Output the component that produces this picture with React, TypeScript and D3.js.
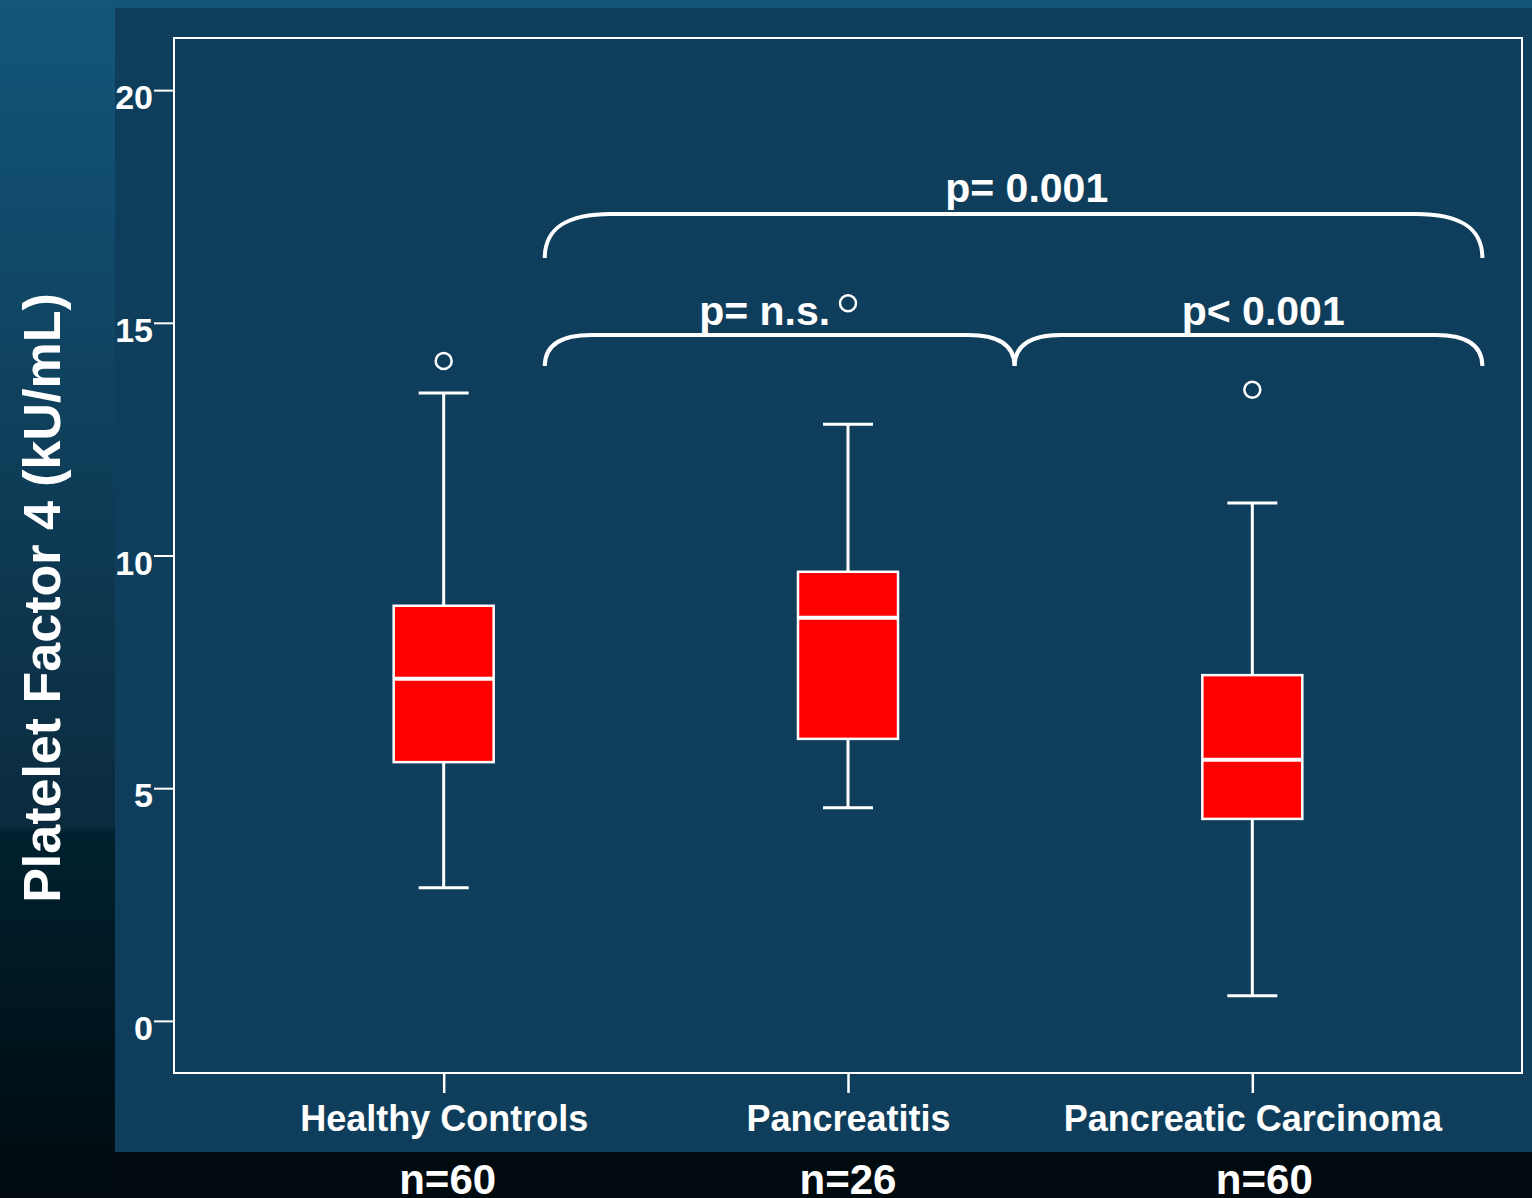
import React, { useEffect, useRef } from "react";
import * as d3 from "d3";

// groups and their box statistics (kU/mL)
const categories = ["Healthy Controls", "Pancreatitis", "Pancreatic Carcinoma"];
const counts = ["n=60", "n=26", "n=60"];
const countShift = [4, 0, 12];
const whiskerLow = [2.86, 4.58, 0.54];
const q1 = [5.56, 6.06, 4.34];
const median = [7.35, 8.66, 5.61];
const q3 = [8.92, 9.65, 7.43];
const whiskerHigh = [13.49, 12.82, 11.13];
const outliers = [14.18, 15.42, 13.56];
const yTicks = [0, 5, 10, 15, 20];

// significance braces: x in group-index units, y in data units
const braces = [
  { from: 0.25, to: 2.569, top: 17.34, drop: 16.39, label: "p= 0.001", labelX: 1.442, labelY: 17.6 },
  { from: 0.25, to: 1.412, top: 14.74, drop: 14.07, label: "p= n.s.", labelX: 0.794, labelY: 14.95 },
  { from: 1.412, to: 2.569, top: 14.74, drop: 14.07, label: "p< 0.001", labelX: 2.027, labelY: 14.95 },
];

const W = 1532;
const H = 1198;
const FONT = "'Liberation Sans', Arial, sans-serif";

const App = () => {
  const svgRef = useRef<SVGSVGElement>(null);

  useEffect(() => {
    document.body.style.margin = "0";
    const svg = d3.select(svgRef.current);
    svg.selectAll("*").remove();

    const frame = { left: 174, right: 1522, top: 38, bottom: 1073 };

    const x = d3.scalePoint<string>().domain(categories).range([frame.left, frame.right]).padding(0.667);
    const xi = d3.scaleLinear().domain([0, 1]).range([x(categories[0])!, x(categories[1])!]);
    const y = d3.scaleLinear().domain([-1.12, 21.12]).range([frame.bottom, frame.top]);

    // background
    const defs = svg.append("defs");
    const grad = defs.append("linearGradient").attr("id", "bg").attr("x1", 0).attr("y1", 0).attr("x2", 0).attr("y2", 1);
    grad.append("stop").attr("offset", "0").attr("stop-color", "#13567b");
    grad.append("stop").attr("offset", "0.69").attr("stop-color", "#0b2b3e");
    grad.append("stop").attr("offset", "0.695").attr("stop-color", "#00212f");
    grad.append("stop").attr("offset", "1").attr("stop-color", "#000a0f");

    svg.append("rect").attr("width", W).attr("height", H).attr("fill", "url(#bg)");
    svg.append("rect").attr("x", 115).attr("y", 0).attr("width", W - 115).attr("height", 8).attr("fill", "#13557a");
    svg.append("rect").attr("x", 115).attr("y", 1152).attr("width", W - 115).attr("height", H - 1152).attr("fill", "#010a0f");
    svg.append("rect").attr("x", 115).attr("y", 8).attr("width", W - 115).attr("height", 1144).attr("fill", "#0e3e5b");

    // frame
    svg
      .append("rect")
      .attr("x", frame.left)
      .attr("y", frame.top)
      .attr("width", frame.right - frame.left)
      .attr("height", frame.bottom - frame.top)
      .attr("fill", "none")
      .attr("stroke", "white")
      .attr("stroke-width", 2);

    // y axis
    const yAxis = svg
      .append("g")
      .attr("transform", `translate(${frame.left}, 0)`)
      .call(d3.axisLeft(y).tickValues(yTicks).tickSize(20).tickPadding(1));
    yAxis.select(".domain").remove();
    yAxis.selectAll("line").attr("stroke", "white").attr("stroke-width", 2);
    yAxis
      .selectAll("text")
      .attr("fill", "white")
      .attr("dy", "0.55em")
      .style("font-family", FONT)
      .style("font-weight", 700)
      .style("font-size", "34px");

    // x axis
    const xAxis = svg
      .append("g")
      .attr("transform", `translate(0, ${frame.bottom})`)
      .call(d3.axisBottom(x).tickSize(20).tickPadding(12));
    xAxis.select(".domain").remove();
    xAxis.selectAll("line").attr("stroke", "white").attr("stroke-width", 2.5);
    xAxis
      .selectAll("text")
      .attr("fill", "white")
      .style("font-family", FONT)
      .style("font-weight", 700)
      .style("font-size", "36px");

    // sample sizes
    svg
      .selectAll("text.count")
      .data(counts)
      .enter()
      .append("text")
      .attr("class", "count")
      .attr("x", (d, i) => x(categories[i])! + countShift[i])
      .attr("y", 1194)
      .attr("text-anchor", "middle")
      .attr("fill", "white")
      .style("font-family", FONT)
      .style("font-weight", 700)
      .style("font-size", "42px")
      .text(d => d);

    // axis title
    svg
      .append("text")
      .attr("transform", `translate(60, 598) rotate(-90)`)
      .attr("text-anchor", "middle")
      .attr("fill", "white")
      .style("font-family", FONT)
      .style("font-weight", 700)
      .style("font-size", "52px")
      .text("Platelet Factor 4 (kU/mL)");

    // boxes
    const boxW = 100;
    const capW = 50;
    const g = svg.selectAll("g.box").data(categories).enter().append("g").attr("class", "box");

    g.append("line")
      .attr("x1", d => x(d)!)
      .attr("x2", d => x(d)!)
      .attr("y1", (d, i) => y(whiskerLow[i]))
      .attr("y2", (d, i) => y(whiskerHigh[i]))
      .attr("stroke", "white")
      .attr("stroke-width", 3);
    [whiskerLow, whiskerHigh].forEach(arr => {
      g.append("line")
        .attr("x1", d => x(d)! - capW / 2)
        .attr("x2", d => x(d)! + capW / 2)
        .attr("y1", (d, i) => y(arr[i]))
        .attr("y2", (d, i) => y(arr[i]))
        .attr("stroke", "white")
        .attr("stroke-width", 3);
    });
    g.append("rect")
      .attr("x", d => x(d)! - boxW / 2)
      .attr("y", (d, i) => y(q3[i]))
      .attr("width", boxW)
      .attr("height", (d, i) => y(q1[i]) - y(q3[i]))
      .attr("fill", "#ff0000")
      .attr("stroke", "white")
      .attr("stroke-width", 2.5);
    g.append("line")
      .attr("x1", d => x(d)! - boxW / 2)
      .attr("x2", d => x(d)! + boxW / 2)
      .attr("y1", (d, i) => y(median[i]))
      .attr("y2", (d, i) => y(median[i]))
      .attr("stroke", "white")
      .attr("stroke-width", 4);
    g.append("circle")
      .attr("cx", d => x(d)!)
      .attr("cy", (d, i) => y(outliers[i]))
      .attr("r", 8)
      .attr("fill", "none")
      .attr("stroke", "white")
      .attr("stroke-width", 2.5);

    // braces
    braces.forEach(b => {
      const x0 = xi(b.from);
      const x1 = xi(b.to);
      const yt = y(b.top);
      const yd = y(b.drop);
      const r = (yd - yt) * 1.5;
      const p = d3.path();
      p.moveTo(x0, yd);
      p.bezierCurveTo(x0, yt + (yd - yt) * 0.3, x0 + r * 0.35, yt, x0 + r, yt);
      p.lineTo(x1 - r, yt);
      p.bezierCurveTo(x1 - r * 0.35, yt, x1, yt + (yd - yt) * 0.3, x1, yd);
      svg
        .append("path")
        .attr("d", p.toString())
        .attr("fill", "none")
        .attr("stroke", "white")
        .attr("stroke-width", 4);
      svg
        .append("text")
        .attr("x", xi(b.labelX))
        .attr("y", y(b.labelY))
        .attr("text-anchor", "middle")
        .attr("fill", "white")
        .style("font-family", FONT)
        .style("font-weight", 700)
        .style("font-size", "41px")
        .text(b.label);
    });
  }, []);

  return <svg ref={svgRef} width={W} height={H} style={{ display: "block", position: "absolute", left: 0, top: 0 }} />;
};

export default App;
